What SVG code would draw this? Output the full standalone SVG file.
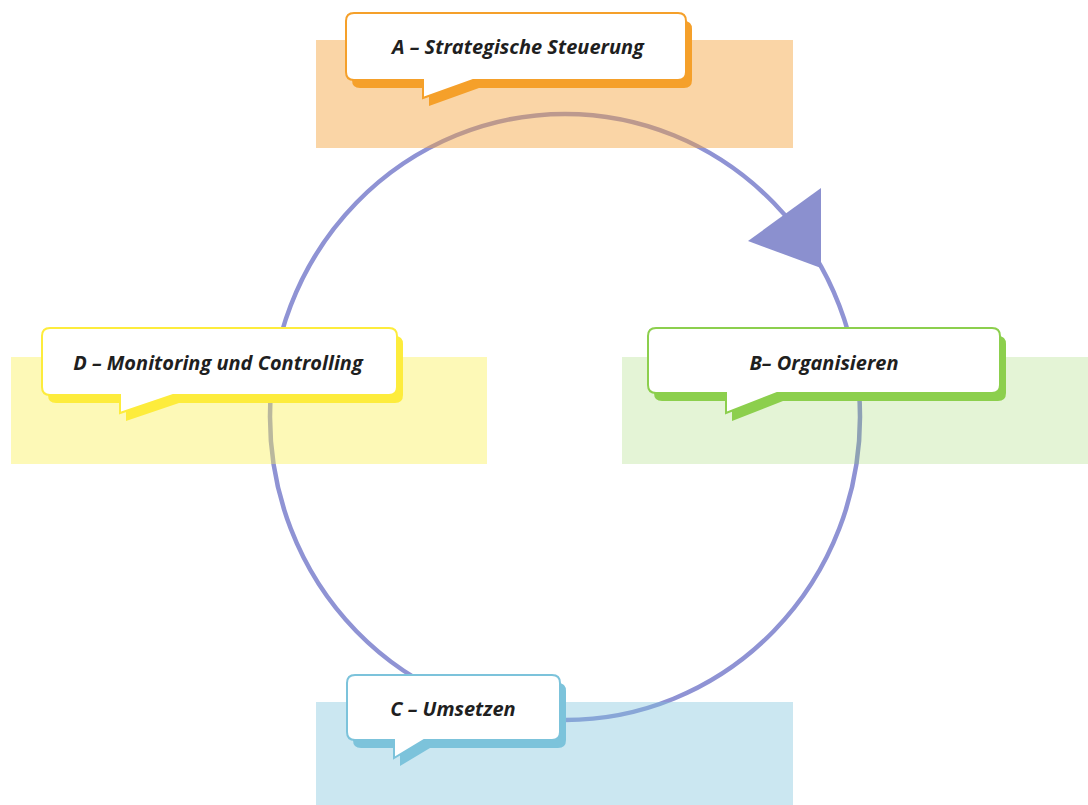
<svg xmlns="http://www.w3.org/2000/svg" width="1088" height="805" viewBox="0 0 1088 805">
<style>
.lbl{font-family:"Open Sans","Liberation Sans",sans-serif;font-weight:700;font-style:italic;font-size:20px;fill:#1f1f1f;text-anchor:middle}
.box{fill:#fff;stroke-width:2}
</style>
<rect width="1088" height="805" fill="#fff"/>
<g id="connectors">
<ellipse cx="565" cy="417" rx="295" ry="303" fill="none" stroke="#8f93d4" stroke-width="4.5"/>
<polygon points="748,241 821,188 821,268" fill="#8b90cf"/>
</g>
<g id="bands">
<rect x="316" y="40" width="477" height="108" fill="#f5a13a" opacity="0.45"/>
<rect x="11" y="357" width="476" height="107" fill="#fbef4a" opacity="0.4"/>
<rect x="622" y="357" width="466" height="107" fill="#8ccf4d" opacity="0.23"/>
<rect x="316" y="702" width="477" height="103" fill="#7cc3db" opacity="0.4"/>
</g>
<g id="nodeA">
<path transform="translate(6,8)" fill="#f5a02a" d="M354,13 H678 Q686,13 686,21 V72 Q686,80 678,80 H473 L423,98 V80 H354 Q346,80 346,72 V21 Q346,13 354,13 Z"/>
<path class="box" stroke="#f5a02a" d="M354,13 H678 Q686,13 686,21 V72 Q686,80 678,80 H473 L423,98 V80 H354 Q346,80 346,72 V21 Q346,13 354,13 Z"/>
<text class="lbl" x="518" y="54">A – Strategische Steuerung</text>
</g>
<g id="nodeD">
<path transform="translate(6,8)" fill="#fdec3c" d="M50,328 H389 Q397,328 397,336 V387 Q397,395 389,395 H173 L120,413 V395 H50 Q42,395 42,387 V336 Q42,328 50,328 Z"/>
<path class="box" stroke="#fdec3c" d="M50,328 H389 Q397,328 397,336 V387 Q397,395 389,395 H173 L120,413 V395 H50 Q42,395 42,387 V336 Q42,328 50,328 Z"/>
<text class="lbl" x="218" y="370">D – Monitoring und Controlling</text>
</g>
<g id="nodeB">
<path transform="translate(6,8)" fill="#8ccf4d" d="M656,328 H992 Q1000,328 1000,336 V385 Q1000,393 992,393 H777 L726,413 V393 H656 Q648,393 648,385 V336 Q648,328 656,328 Z"/>
<path class="box" stroke="#8ccf4d" d="M656,328 H992 Q1000,328 1000,336 V385 Q1000,393 992,393 H777 L726,413 V393 H656 Q648,393 648,385 V336 Q648,328 656,328 Z"/>
<text class="lbl" x="824" y="370">B– Organisieren</text>
</g>
<g id="nodeC">
<path transform="translate(6,8)" fill="#7cc3db" d="M355,675 H552 Q560,675 560,683 V732 Q560,740 552,740 H424 L394,758 V740 H355 Q347,740 347,732 V683 Q347,675 355,675 Z"/>
<path class="box" stroke="#7cc3db" d="M355,675 H552 Q560,675 560,683 V732 Q560,740 552,740 H424 L394,758 V740 H355 Q347,740 347,732 V683 Q347,675 355,675 Z"/>
<text class="lbl" x="453" y="716">C – Umsetzen</text>
</g>
</svg>
